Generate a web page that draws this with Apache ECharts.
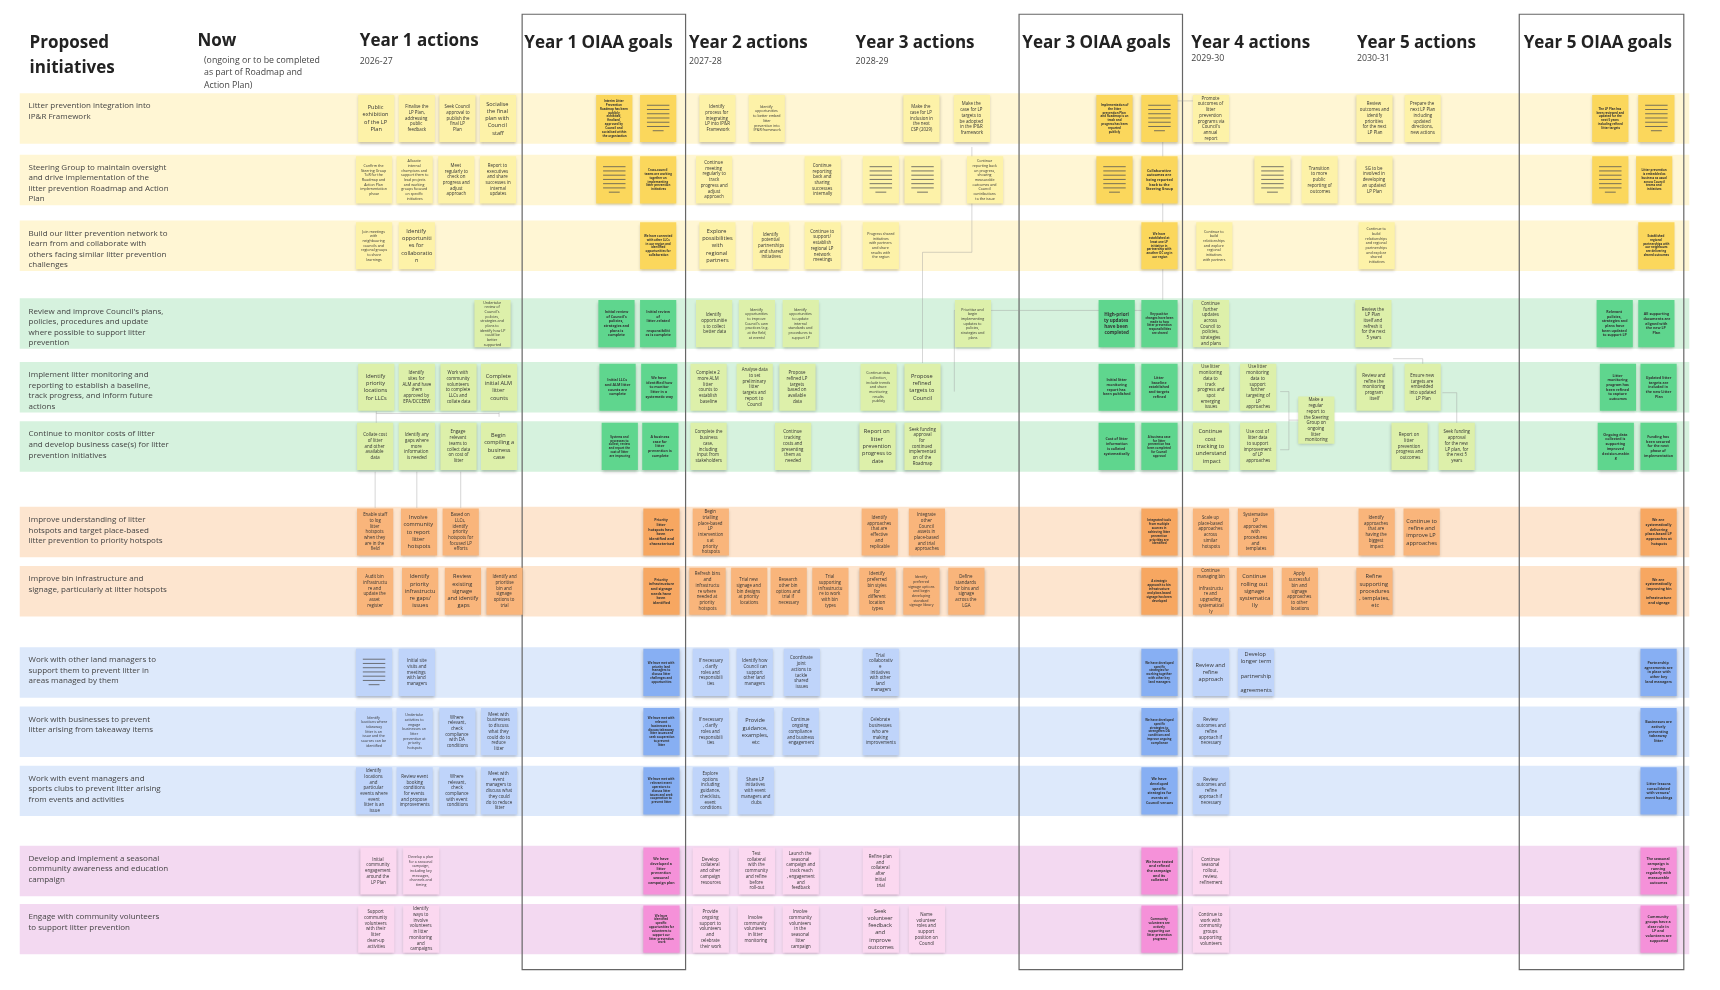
<!DOCTYPE html>
<html>
<head>
<meta charset="utf-8">
<script src="https://cdn.jsdelivr.net/npm/echarts@6/dist/echarts.min.js"></script>
<style>html,body{margin:0;background:#fff}#main{width:1720px;height:990px}</style>
</head>
<body>
<div id="main"></div>
<script>
// Litter prevention roadmap board - sticky notes drawn from data
var S = 1720 / 1568; // board units -> page px
var FONT = 'Open Sans';

var pal = {
    Y : { band : '#fff6d4', note : '#fdf2a8', goal : '#fbd75c' },
    G : { band : '#d6f2de', note : '#ddf0aa', goal : '#5fd68e' },
    O : { band : '#fde5cf', note : '#f9b57b', goal : '#f7a761' },
    B : { band : '#dde9fb', note : '#bfd4fa', goal : '#87aff3' },
    P : { band : '#f3d9f1', note : '#fbd8f0', goal : '#f591d9' }
};

// each row: label, centre y, palette, notes [x, text, kind]  kind: n=action, g=goal, l=lines, gl=goal lines
var rows = [
 { label : 'Litter prevention integration into\nIP&R Framework', y : 108, c : 'Y', notes : [
   [343,'Public exhibition of the LP Plan'],[380,'Finalise the LP Plan, addressing public feedback'],[417,'Seek Council approval to publish the final LP Plan'],[454,'Socialise the final plan with Council staff'],
   [560,'Interim Litter Prevention Roadmap has been publicly exhibited, finalised, approved by Council and socialised within the organisation','g'],[600,'','gl'],
   [654,'Identify process for integrating LP into IP&R Framework'],[699,'Identify opportunities to better embed litter prevention into IP&R framework'],
   [840,'Make the case for LP inclusion in the next CSP (2029)'],[886,'Make the case for LP targets to be adopted in the IP&R framework'],
   [1016,'Implementation of the litter prevention Plan and Roadmap is on track and progress has been reported publicly','g'],[1057,'','gl'],
   [1104,'Promote outcomes of litter prevention programs via Council\'s annual report'],[1253,'Review outcomes and identify priorities for the next LP Plan'],[1297,'Prepare the next LP Plan including updated directions, new actions'],
   [1468,'The LP Plan has been reviewed and updated for the next 5 years including refined litter targets','g'],[1510,'','gl'] ] },
 { label : 'Steering Group to maintain oversight\nand drive implementation of the\nlitter prevention Roadmap and Action\nPlan', y : 164, c : 'Y', notes : [
   [341,'Confirm the Steering Group ToR for the Roadmap and Action Plan implementation phase'],[378,'Allocate internal champions and support them to lead projects and working groups focused on specific initiatives'],[416,'Meet regularly to check on progress and adjust approach'],[454,'Report to executives and share successes in internal updates'],
   [560,'','gl'],[600,'Cross-council teams are working together on implementing litter prevention initiatives','g'],
   [651,'Continue meeting regularly to track progress and adjust approach'],[750,'Continue reporting back and sharing successes internally'],
   [803,'','l'],[841,'','l'],[898,'Continue reporting back on progress, showing measurable outcomes and Council contributions to the issue'],
   [1016,'','gl'],[1057,'Collaborative outcomes are being reported back to the Steering Group','g'],
   [1160,'','l'],[1203,'Transition to more public reporting of outcomes'],[1253,'SG to be involved in developing an updated LP Plan'],
   [1468,'','gl'],[1508,'Litter prevention is embedded as business as usual across Council teams and initiatives','g'] ] },
 { label : 'Build our litter prevention network to\nlearn from and collaborate with\nothers facing similar litter prevention\nchallenges', y : 224, c : 'Y', notes : [
   [341,'Join meetings with neighbouring councils and regional groups to share learnings'],[380,'Identify opportunities for collaboration'],
   [600,'We have connected with other LLCs in our region and identified opportunities for collaboration','g'],
   [654,'Explore possibilities with regional partners'],[703,'Identify potential partnerships and shared initiatives'],[750,'Continue to support/ establish regional LP network meetings'],
   [803,'Progress shared initiatives with partners and share results with the region'],
   [1057,'We have established at least one LP initiative in partnership with another OC org in our region','g'],
   [1107,'Continue to build relationships and explore regional initiatives with partners'],[1255,'Continue to build relationships and regional partnerships and explore shared initiatives'],
   [1510,'Established regional partnerships with our neighbours are delivering shared outcomes','g'] ] },
 { label : 'Review and improve Council\'s plans,\npolicies, procedures and update\nwhere possible to support litter\nprevention', y : 295, c : 'G', notes : [
   [449,'Undertake review of Council\'s policies, strategies and plans to identify how LP could be better supported'],
   [562,'Initial review of Council\'s policies, strategies and plans is complete','g'],[600,'Initial review of litter-related responsibilities is complete','g'],
   [651,'Identify opportunities to collect better data'],[690,'Identify opportunities to improve Council\'s own practices (e.g. at the field, at events)'],[730,'Identify opportunities to update internal standards and procedures to support LP'],
   [887,'Prioritise and begin implementing updates to policies, strategies and plans'],
   [1018,'High-priority updates have been completed','g'],[1057,'Key positive changes have been made to how litter prevention responsibilities are shared','g'],
   [1104,'Continue further updates across Council to policies, strategies and plans'],[1252,'Review the LP Plan itself and refresh it for the next 5 years'],
   [1472,'Relevant policies, strategies and plans have been updated to support LP','g'],[1510,'All supporting documents are aligned with the new LP Plan','g'] ] },
 { label : 'Implement litter monitoring and\nreporting to establish a baseline,\ntrack progress, and inform future\nactions', y : 353, c : 'G', notes : [
   [343,'Identify priority locations for LLCs'],[380,'Identify sites for ALM and have them approved by EPA/DCCEEW'],[418,'Work with community volunteers to complete LLCs and collate data'],[455,'Complete initial ALM litter counts'],
   [563,'Initial LLCs and ALM litter counts are complete','g'],[601,'We have identified how to monitor litter in a systematic way','g'],
   [646,'Complete 2 more ALM litter counts to establish baseline'],[688,'Analyse data to set preliminary litter targets and report to Council'],[727,'Propose refined LP targets based on available data'],
   [801,'Continue data collection, include trends and share monitoring results publicly'],[841,'Propose refined targets to Council'],
   [1018,'Initial litter monitoring report has been published','g'],[1057,'Litter baseline established and targets refined','g'],
   [1104,'Use litter monitoring data to track progress and spot emerging issues'],[1147,'Use litter monitoring data to support further targeting of LP approaches'],
   [1253,'Review and refine the monitoring program itself'],[1297,'Ensure new targets are embedded into updated LP Plan'],
   [1475,'Litter monitoring program has been refined to capture outcomes','g'],[1512,'Updated litter targets are included in the new Litter Plan','g'] ] },
 { label : 'Continue to monitor costs of litter\nand develop business case(s) for litter\nprevention initiatives', y : 407, c : 'G', notes : [
   [342,'Collate cost of litter and other available data'],[380,'Identify any gaps where more information is needed'],[418,'Engage relevant teams to collect data on cost of litter'],[455,'Begin compiling a business case'],
   [565,'Systems and processes to collect, review and report the cost of litter are improving','g'],[602,'A business case for litter prevention is complete','g'],
   [646,'Complete the business case, including input from stakeholders'],[723,'Continue tracking costs and presenting them as needed'],
   [800,'Report on litter prevention progress to date'],[841,'Seek funding approval for continued implementation of the Roadmap'],
   [1018,'Cost of litter information is collated systematically','g'],[1057,'A business case for litter prevention has been completed for Council approval','g'],
   [1104,'Continue cost tracking to understand impact'],[1147,'Use cost of litter data to support improvement of LP approaches'],
   [1285,'Report on litter prevention progress and outcomes'],[1328,'Seek funding approval for the new LP plan, for the next 5 years'],
   [1473,'Ongoing data collected is supporting improved decision-making','g'],[1512,'Funding has been secured for the next phase of implementation','g'] ] },
 { label : 'Improve understanding of litter\nhotspots and target place-based\nlitter prevention to priority hotspots', y : 485, c : 'O', notes : [
   [342,'Enable staff to log litter hotspots when they are in the field'],[382,'Involve community to report litter hotspots'],[420,'Based on LLCs, identify priority hotspots for focused LP efforts'],
   [603,'Priority litter hotspots have been identified and characterised','g'],
   [648,'Begin trialling place-based LP interventions at priority hotspots'],
   [802,'Identify approaches that are effective and replicable'],[845,'Integrate other Council assets in place-based and trial approaches'],
   [1057,'Integrated tools from multiple sources in achieving litter prevention priorities are identified','g'],
   [1104,'Scale up place-based approaches across similar hotspots'],[1145,'Systematise LP approaches with procedures and templates'],
   [1255,'Identify approaches that are having the biggest impact'],[1296,'Continue to refine and improve LP approaches'],
   [1512,'We are systematically delivering place-based LP approaches at hotspots','g'] ] },
 { label : 'Improve bin infrastructure and\nsignage, particularly at litter hotspots', y : 539, c : 'O', notes : [
   [342,'Audit bin infrastructure and update the asset register'],[383,'Identify priority infrastructure gaps/issues'],[422,'Review existing signage and identify gaps'],[460,'Identify and prioritise bin and signage options to trial'],
   [603,'Priority infrastructure and signage needs have been identified','g'],
   [645,'Refresh bins and infrastructure where needed at priority hotspots'],[683,'Trial new signage and bin designs at priority locations'],[719,'Research other bin options and trial if necessary'],[757,'Trial supporting infrastructure to work with bin types'],
   [800,'Identify preferred bin styles for different location types'],[840,'Identify preferred signage options and begin developing standard signage library'],[881,'Define standards for bins and signage across the LGA'],
   [1057,'A strategic approach to bin infrastructure and place-based signage has been developed','g'],
   [1104,'Continue managing bin infrastructure and upgrading systematically'],[1144,'Continue rolling out signage systematically'],[1185,'Apply successful bin and signage approaches to other locations'],
   [1253,'Refine supporting procedures, templates, etc'],
   [1512,'We are systematically improving bin infrastructure and signage','g'] ] },
 { label : 'Work with other land managers to\nsupport them to prevent litter in\nareas managed by them', y : 613, c : 'B', notes : [
   [341,'','l'],[380,'Initial site visits and meetings with land managers'],
   [603,'We have met with priority land managers to discuss litter challenges and opportunities','g'],
   [648,'If necessary, clarify roles and responsibilities'],[688,'Identify how Council can support other land managers'],[731,'Coordinate joint actions to tackle shared issues'],
   [803,'Trial collaborative initiatives with other land managers'],
   [1057,'We have developed specific strategies for working together with other key land managers','g'],
   [1104,'Review and refine approach'],[1145,'Develop longer term partnership agreements'],
   [1512,'Partnership agreements are in place with other key land managers','g'] ] },
 { label : 'Work with businesses to prevent\nlitter arising from takeaway items', y : 667, c : 'B', notes : [
   [341,'Identify locations where takeaway litter is an issue and the sources can be identified'],[378,'Undertake activities to engage businesses on litter prevention at priority hotspots'],[417,'Where relevant, check compliance with DA conditions'],[455,'Meet with businesses to discuss what they could do to reduce litter'],
   [603,'We have met with relevant businesses to discuss takeaway litter issues and seek cooperation to prevent litter','g'],
   [648,'If necessary, clarify roles and responsibilities'],[689,'Provide guidance, examples, etc'],[730,'Continue ongoing compliance and business engagement'],
   [803,'Celebrate businesses who are making improvements'],
   [1057,'We have developed specific strategies to strengthen DA conditions and improve ongoing compliance','g'],
   [1104,'Review outcomes and refine approach if necessary'],
   [1512,'Businesses are actively preventing takeaway litter','g'] ] },
 { label : 'Work with event managers and\nsports clubs to prevent litter arising\nfrom events and activities', y : 721, c : 'B', notes : [
   [341,'Identify locations and particular events where event litter is an issue'],[378,'Review event booking conditions for events and propose improvements'],[417,'Where relevant, check compliance with event conditions'],[455,'Meet with event managers to discuss what they could do to reduce litter'],
   [603,'We have met with relevant event operators to discuss litter issues and seek cooperation to prevent litter','g'],
   [648,'Explore options including guidance, checklists, event conditions'],[689,'Share LP initiatives with event managers and clubs'],
   [1057,'We have developed specific strategies for events at Council venues','g'],
   [1104,'Review outcomes and refine approach if necessary'],
   [1512,'Litter lessons consolidated with venues/ event bookings','g'] ] },
 { label : 'Develop and implement a seasonal\ncommunity awareness and education\ncampaign', y : 794, c : 'P', notes : [
   [345,'Initial community engagement around the LP Plan'],[384,'Develop a plan for a seasonal campaign, including key messages, channels and timing'],
   [603,'We have developed a litter prevention seasonal campaign plan','g'],
   [648,'Develop collateral and other campaign resources'],[690,'Test collateral with the community and refine before roll-out'],[730,'Launch the seasonal campaign and track reach, engagement and feedback'],
   [803,'Refine plan and collateral after initial trial'],
   [1057,'We have tested and refined the campaign and its collateral','g'],
   [1104,'Continue seasonal rollout, review, refinement'],
   [1512,'The seasonal campaign is running regularly with measurable outcomes','g'] ] },
 { label : 'Engage with community volunteers\nto support litter prevention', y : 847, c : 'P', notes : [
   [343,'Support community volunteers with their litter clean-up activities'],[384,'Identify ways to involve volunteers in litter monitoring and campaigns'],
   [603,'We have identified specific opportunities for volunteers to support our litter prevention work','g'],
   [648,'Provide ongoing support to volunteers and celebrate their work'],[689,'Involve community volunteers in litter monitoring'],[730,'Involve community volunteers in the seasonal litter campaign'],
   [803,'Seek volunteer feedback and improve outcomes'],[845,'Name volunteer roles and support position on Council'],
   [1057,'Community volunteers are actively supporting our litter prevention programs','g'],
   [1104,'Continue to work with community groups supporting volunteers'],
   [1512,'Community groups have a clear role in LP and volunteers are supported','g'] ] }
];
// one note that sits between rows
var extraNotes = [ [1200, 383, 'Make a regular report to the Steering Group on ongoing litter monitoring', 'G'] ];

var bands = [], notes = [];
rows.forEach(function (r) {
    bands.push([18, r.y - 23, 1540, r.y + 23, pal[r.c].band]);
    r.notes.forEach(function (n) {
        var k = n[2] || 'n';
        notes.push([n[0], r.y, n[1], k, k.charAt(0) === 'g' ? pal[r.c].goal : pal[r.c].note]);
    });
});
extraNotes.forEach(function (n) { notes.push([n[0], n[1], n[2], 'n', pal[n[3]].note]); });

var frames = [ [476, 625], [929, 1078], [1385, 1535] ];

// connector lines between dependent notes
var links = [
    [[342, 430], [342, 463]], [[380, 430], [380, 463]], [[420, 430], [420, 463]],
    [[343, 375], [343, 386]], [[343, 377], [455, 377]], [[455, 376], [455, 380]],
    [[841, 331], [841, 230], [886, 230], [886, 134]],
    [[870, 357], [870, 283], [1060, 283], [1060, 92], [1104, 92]],
    [[1270, 327], [1297, 327], [1297, 332]],
    [[1167, 357], [1175, 357], [1175, 383], [1185, 383]],
    [[1167, 410], [1175, 410], [1175, 383]],
    [[1315, 358], [1328, 358], [1328, 386]]
];

function lineIcon(x, y, w, h) {
    var out = [];
    for (var i = 0; i < 7; i++) {
        var ww = i === 6 ? w * 0.3 : w * 0.62;
        out.push({ type : 'line', shape : { x1 : x - ww / 2, y1 : y - h * 0.28 + i * h * 0.09, x2 : x + ww / 2, y2 : y - h * 0.28 + i * h * 0.09 },
            style : { stroke : '#555', lineWidth : 0.8 } });
    }
    return out;
}

var myChart = echarts.init(document.getElementById('main'));
var option = {
    animation : false,
    grid : { left : 0, right : 0, top : 0, bottom : 0 },
    xAxis : { type : 'value', min : 0, max : 1568, show : false },
    yAxis : { type : 'value', min : 0, max : 990 / S, inverse : true, show : false },
    graphic : [],
    series : [ {
        type : 'custom', name : 'bands', silent : true, z : 1,
        data : bands,
        renderItem : function (p, api) {
            var a = api.coord([api.value(0), api.value(1)]), b = api.coord([api.value(2), api.value(3)]);
            return { type : 'rect', shape : { x : a[0], y : a[1], width : b[0] - a[0], height : b[1] - a[1] },
                style : { fill : bands[p.dataIndex][4] } };
        }
    }, {
        type : 'custom', name : 'frames', silent : true, z : 2,
        data : frames,
        renderItem : function (p, api) {
            var a = api.coord([api.value(0), 13]), b = api.coord([api.value(1), 884]);
            return { type : 'rect', shape : { x : a[0], y : a[1], width : b[0] - a[0], height : b[1] - a[1] },
                style : { fill : 'none', stroke : '#666', lineWidth : 1.2 } };
        }
    }, {
        type : 'lines', coordinateSystem : 'cartesian2d', polyline : true, silent : true, z : 3,
        lineStyle : { color : '#999', width : 0.8 },
        data : links.map(function (c) { return { coords : c }; })
    }, {
        type : 'custom', name : 'notes', silent : true, z : 4,
        data : notes,
        renderItem : function (p, api) {
            var d = notes[p.dataIndex];
            var c = api.coord([d[0], d[1]]);
            var w = api.size([33, 0])[0], h = api.size([0, 43])[1];
            var kids = [ { type : 'rect', shape : { x : c[0] - w / 2, y : c[1] - h / 2, width : w, height : h },
                style : { fill : d[4], shadowBlur : 3, shadowOffsetY : 1.5, shadowColor : 'rgba(0,0,0,0.22)' } } ];
            if (d[3].indexOf('l') >= 0) {
                kids = kids.concat(lineIcon(c[0], c[1], w, h));
            } else {
                var len = d[2].length;
                var fs = len < 26 ? 7.2 : (len < 45 ? 5.6 : (len < 75 ? 4.4 : 3.6));
                if (d[3] === 'g') fs = fs * 0.82;
                kids.push({ type : 'text', x : c[0], y : c[1],
                    style : { text : d[2], width : w - 5, overflow : 'break', align : 'center', verticalAlign : 'middle',
                        fontFamily : FONT, fontSize : fs, lineHeight : fs * 1.3, fill : '#333',
                        fontWeight : d[3] === 'g' ? 'bold' : 'normal' } });
            }
            return { type : 'group', children : kids };
        }
    } ]
};

// headings and row labels
var heads = [
    ['Proposed\ninitiatives', 27, 28, 15.5, 26], ['Now', 180, 26, 15.5, 0], ['Year 1 actions', 328, 26, 15.5, 0],
    ['Year 1 OIAA goals', 478, 28, 15.5, 0], ['Year 2 actions', 628, 28, 15.5, 0], ['Year 3 actions', 780, 28, 15.5, 0],
    ['Year 3 OIAA goals', 932, 28, 15.5, 0], ['Year 4 actions', 1086, 28, 15.5, 0], ['Year 5 actions', 1237, 28, 15.5, 0],
    ['Year 5 OIAA goals', 1389, 28, 15.5, 0]
];
heads.forEach(function (t) {
    option.graphic.push({ type : 'text', left : t[1] * S, top : t[2] * S,
        style : { text : t[0], fontFamily : FONT, fontWeight : 'bold', fontSize : t[3] * S, lineHeight : 23 * S, fill : '#222' } });
});
[['(ongoing or to be completed\nas part of Roadmap and\nAction Plan)', 186, 50], ['2026-27', 328, 51], ['2027-28', 628, 51],
 ['2028-29', 780, 51], ['2029-30', 1086, 48], ['2030-31', 1237, 48]].forEach(function (t) {
    option.graphic.push({ type : 'text', left : t[1] * S, top : t[2] * S,
        style : { text : t[0], fontFamily : FONT, fontSize : 8 * S, lineHeight : 11 * S, fill : '#444' } });
});
rows.forEach(function (r) {
    option.graphic.push({ type : 'text', left : 26 * S, top : (r.y - 16) * S, z : 10,
        style : { text : r.label, fontFamily : FONT, fontSize : 7.3 * S, lineHeight : 9.6 * S, fill : '#444' } });
});

myChart.setOption(option);

window.onresize = function () {
    myChart.resize();
};
</script>
</body>
</html>
